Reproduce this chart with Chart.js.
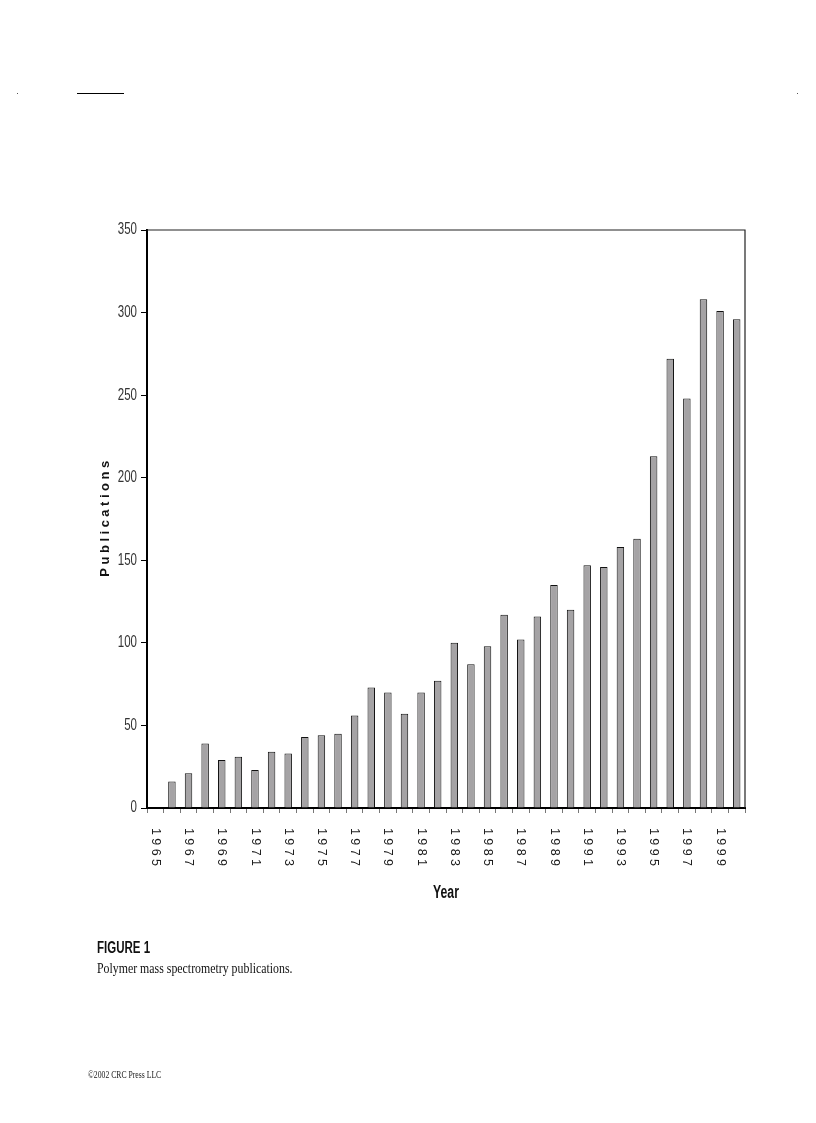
<!DOCTYPE html>
<html>
<head>
<meta charset="utf-8">
<script src="https://cdn.jsdelivr.net/npm/chart.js@4.4.1/dist/chart.umd.min.js"></script>
<style>
  html, body { margin: 0; padding: 0; background: #fff; }
  #page { position: relative; width: 816px; height: 1123px; overflow: hidden; }
  #wrap { position: absolute; left: 0; top: 0; width: 816px; height: 1123px; }
  .rule { position: absolute; left: 77px; top: 93px; width: 47px; height: 1px; background: #000; }
  .dot { position: absolute; top: 93px; width: 1px; height: 1px; background: #555; }
  .figno { position: absolute; left: 97px; top: 939px; font: bold 16px "Liberation Sans", Arial, sans-serif; color: #111;
           transform: scaleX(0.72); transform-origin: left top; white-space: nowrap; }
  .caption { position: absolute; left: 97px; top: 960px; font: 15px "Liberation Serif", serif; color: #111;
             transform: scaleX(0.79); transform-origin: left top; white-space: nowrap; }
  .copy { position: absolute; left: 88px; top: 1068px; font: 11px "Liberation Serif", serif; color: #222;
          transform: scaleX(0.7); transform-origin: left top; white-space: nowrap; }
</style>
</head>
<body>
<div id="page">
  <div class="rule"></div>
  <div class="dot" style="left:17px"></div>
  <div class="dot" style="left:797px"></div>
  <div id="wrap"><canvas id="pubChart"></canvas></div>
  <div class="figno">FIGURE 1</div>
  <div class="caption">Polymer mass spectrometry publications.</div>
  <div class="copy">©2002 CRC Press LLC</div>
</div>
<script>
// publications per year
var years = ["1965","1966","1967","1968","1969","1970","1971","1972","1973","1974",
             "1975","1976","1977","1978","1979","1980","1981","1982","1983","1984",
             "1985","1986","1987","1988","1989","1990","1991","1992","1993","1994",
             "1995","1996","1997","1998","1999","2000"];
var publications = [0, 16, 21, 39, 29, 31, 23, 34, 33, 43,
                    44, 45, 56, 73, 70, 57, 70, 77, 100, 87,
                    98, 117, 102, 116, 135, 120, 147, 146, 158, 163,
                    213, 272, 248, 308, 301, 296];
var yearTicks = ["1965","1967","1969","1971","1973","1975","1977","1979","1981",
                 "1983","1985","1987","1989","1991","1993","1995","1997","1999"];
var yTicks = [0, 50, 100, 150, 200, 250, 300, 350];

// frame, narrow y labels, rotated year labels and titles
var frameAndLabels = {
    id: "frameAndLabels",
    afterDraw: function (chart) {
        var ctx = chart.ctx;
        var a = chart.chartArea;
        var x = chart.scales.x;
        var y = chart.scales.y;
        ctx.save();
        ctx.strokeStyle = "#222";
        ctx.lineWidth = 1.2;
        ctx.beginPath();
        ctx.moveTo(a.left, a.top);
        ctx.lineTo(a.right, a.top);
        ctx.lineTo(a.right, a.bottom);
        ctx.stroke();

        // y tick labels (narrow face)
        ctx.fillStyle = "#333";
        ctx.font = "16px 'Liberation Sans', Arial, sans-serif";
        ctx.textAlign = "right";
        ctx.textBaseline = "middle";
        yTicks.forEach(function (v) {
            ctx.save();
            ctx.translate(137, y.getPixelForValue(v));
            ctx.scale(0.72, 1);
            ctx.fillText(String(v), 0, 0);
            ctx.restore();
        });

        // year labels, turned clockwise
        ctx.fillStyle = "#1a1a1a";
        ctx.font = "12.5px 'Liberation Sans', Arial, sans-serif";
        ctx.letterSpacing = "3.4px";
        ctx.textAlign = "left";
        ctx.textBaseline = "middle";
        yearTicks.forEach(function (lbl) {
            var px = x.getPixelForValue(years.indexOf(lbl));
            ctx.save();
            ctx.translate(px, a.bottom + 20);
            ctx.rotate(Math.PI / 2);
            ctx.fillText(lbl, 0, 0);
            ctx.restore();
        });

        // x axis title
        ctx.letterSpacing = "0px";
        ctx.fillStyle = "#111";
        ctx.font = "bold 18px 'Liberation Sans', Arial, sans-serif";
        ctx.textAlign = "center";
        ctx.textBaseline = "alphabetic";
        ctx.save();
        ctx.translate(446, 898);
        ctx.scale(0.68, 1);
        ctx.fillText("Year", 0, 0);
        ctx.restore();

        // y axis title
        ctx.font = "bold 13px 'Liberation Sans', Arial, sans-serif";
        ctx.letterSpacing = "3.5px";
        ctx.textBaseline = "middle";
        ctx.translate(105, (a.top + a.bottom) / 2);
        ctx.rotate(-Math.PI / 2);
        ctx.fillText("Publications", 2, 0);
        ctx.restore();
    }
};

var ctx = document.getElementById("pubChart");
new Chart(ctx, {
    type: "bar",
    data: {
        labels: years,
        datasets: [
            {
                data: publications,
                backgroundColor: "#a5a3a5",
                borderColor: "#111",
                borderWidth: 1,
                barPercentage: 0.45,
                categoryPercentage: 1.0,
            },
        ],
    },
    options: {
        responsive: true,
        maintainAspectRatio: false,
        animation: false,
        layout: {
            padding: { left: 0, top: 230, right: 71, bottom: 215 },
        },
        plugins: {
            legend: { display: false },
            tooltip: { enabled: false },
        },
        scales: {
            x: {
                afterFit: function (scale) { scale.height = 100; },
                grid: {
                    drawOnChartArea: false,
                    drawTicks: true,
                    tickLength: 5,
                    color: "#777",
                    offset: true,
                },
                border: { display: true, color: "#000", width: 2 },
                ticks: { display: false, autoSkip: false },
            },
            y: {
                min: 0,
                max: 350,
                afterFit: function (scale) { scale.width = 147; },
                afterBuildTicks: function (scale) {
                    scale.ticks = yTicks.map(function (v) { return { value: v }; });
                },
                grid: {
                    drawOnChartArea: false,
                    drawTicks: true,
                    tickLength: 6,
                    color: "#000",
                },
                border: { display: true, color: "#000", width: 2 },
                ticks: { display: false },
            },
        },
    },
    plugins: [frameAndLabels],
});
</script>
</body>
</html>
